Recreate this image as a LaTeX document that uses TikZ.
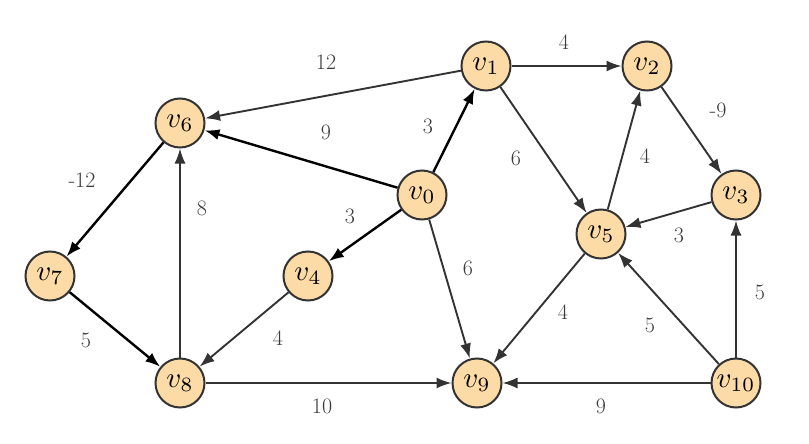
\documentclass[tikz,border=0pt]{standalone}
\usepackage{fontspec}
\usepackage{graphicx}
\usetikzlibrary{arrows.meta}
\definecolor{nodefill}{HTML}{FDDBA6}
\definecolor{edgegray}{HTML}{333333}
\definecolor{labgray}{HTML}{3A3A3A}
\newcommand{\vlab}[1]{\scalebox{2.9}{$v_{#1}$}}
\begin{document}
\begin{tikzpicture}[x=1pt,y=-1pt,
  vert/.style={circle,draw=edgegray,line width=2pt,fill=nodefill,minimum size=49pt,inner sep=0pt},
  edge/.style={draw=edgegray,line width=1.9pt,-{Latex[length=15pt,width=11pt]}},
  bedge/.style={draw=black,line width=2.4pt,-{Latex[length=15pt,width=11pt]}},
  wlab/.style={text=labgray,font=\fontsize{22}{26}\selectfont}]
\useasboundingbox (0,0) rectangle (809,444);
\node[vert] (v1) at (486,66) {\vlab{1}};
\node[vert] (v2) at (647,66) {\vlab{2}};
\node[vert] (v6) at (180,123) {\vlab{6}};
\node[vert] (v0) at (422,195) {\vlab{0}};
\node[vert] (v3) at (736,195) {\vlab{3}};
\node[vert] (v5) at (601,234) {\vlab{5}};
\node[vert] (v7) at (50,276) {\vlab{7}};
\node[vert] (v4) at (308,276) {\vlab{4}};
\node[vert] (v8) at (180,383) {\vlab{8}};
\node[vert] (v9) at (477,383) {\vlab{9}};
\node[vert] (v10) at (736,383) {\vlab{10}};
\draw[edge] (v1) -- (v6);
\draw[bedge] (v0) -- (v6);
\draw[bedge] (v0) -- (v1);
\draw[bedge] (v0) -- (v4);
\draw[edge] (v0) -- (v9);
\draw[edge] (v1) -- (v2);
\draw[edge] (v1) -- (v5);
\draw[edge] (v5) -- (v2);
\draw[edge] (v2) -- (v3);
\draw[edge] (v3) -- (v5);
\draw[edge] (v5) -- (v9);
\draw[edge] (v10) -- (v5);
\draw[edge] (v10) -- (v3);
\draw[edge] (v10) -- (v9);
\draw[bedge] (v6) -- (v7);
\draw[bedge] (v7) -- (v8);
\draw[edge] (v4) -- (v8);
\draw[edge] (v8) -- (v6);
\draw[edge] (v8) -- (v9);
\node[wlab] (l1) at (326,62) {12};
\node[wlab] (l2) at (326,132) {9};
\node[wlab] (l3) at (428,126) {3};
\node[wlab] (l4) at (350,216) {3};
\node[wlab] (l5) at (468,268) {6};
\node[wlab] (l6) at (564,42) {4};
\node[wlab] (l7) at (516,158) {6};
\node[wlab] (l8) at (645,156) {4};
\node[wlab] (l9) at (718,110) {-9};
\node[wlab] (l10) at (679,235) {3};
\node[wlab] (l11) at (563,312) {4};
\node[wlab] (l12) at (650,325) {5};
\node[wlab] (l13) at (760,292) {5};
\node[wlab] (l14) at (601,406) {9};
\node[wlab] (l15) at (82,180) {-12};
\node[wlab] (l16) at (86,340) {5};
\node[wlab] (l17) at (278,338) {4};
\node[wlab] (l18) at (202,208) {8};
\node[wlab] (l19) at (322,406) {10};
\end{tikzpicture}
\end{document}
